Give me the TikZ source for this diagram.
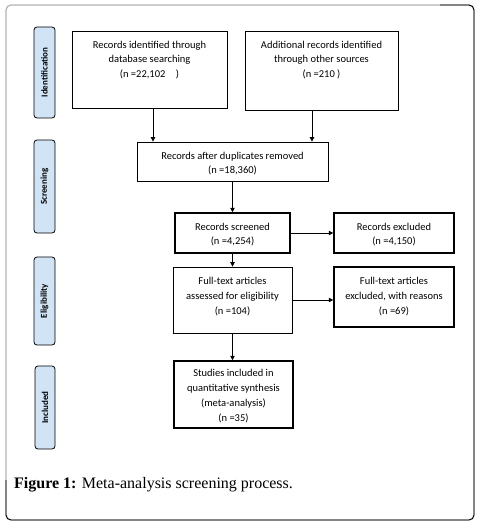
\documentclass[tikz,border=0pt]{standalone}
\usepackage{fontspec}
\setmainfont{Carlito}
\newfontfamily\capfont{Liberation Serif}
\usetikzlibrary{arrows.meta,positioning}
\definecolor{sidefill}{HTML}{D0E4F5}
\tikzset{
  x=1pt,y=-1pt,
  box/.style={draw=black,line width=0.8pt,inner sep=0pt},
  thickbox/.style={box,line width=1.5pt},
  txt/.style={align=center,font=\fontsize{10.5}{14.8}\selectfont,inner sep=0pt},
  side/.style={draw=black,line width=0.8pt,fill=sidefill,rounded corners=3pt,rotate=90,inner sep=0pt,font=\bfseries\fontsize{9}{10}\selectfont},
  arr/.style={-{Triangle[length=4.5pt,width=4.5pt]},line width=0.8pt},
}
\begin{document}
\begin{tikzpicture}
\useasboundingbox (0,0) rectangle (479,527);
% frame
\draw[gray!60,line width=1.2pt,rounded corners=5pt] (6,5) rectangle (474,520);
\draw[black,line width=0.9pt,rounded corners=5pt] (6,480) -- (6,520) -- (474,520) -- (474,5) -- (440,5);
% side labels
\node[side,minimum width=91,minimum height=21] (s1) at (44.5,72.5) {Identification};
\node[side,minimum width=93,minimum height=21] (s2) at (44.5,186.5) {Screening};
\node[side,minimum width=88,minimum height=21] (s3) at (44.5,301) {Eligibility};
\node[side,minimum width=83,minimum height=20] (s4) at (45,407.5) {Included};
% boxes
\node[box,minimum width=155,minimum height=77] (b1) at (149.5,69.5) {};
\node[txt] (t1) at (149.5,60) {Records identified through\\database searching\\(n =22,102\quad)};
\node[box,minimum width=153,minimum height=79] (b2) at (321.5,70.5) {};
\node[txt] (t2) at (321.5,60) {Additional records identified\\through other sources\\(n =210 )};
\node[box,minimum width=191,minimum height=39] (b3) at (232.5,161.5) {};
\node[txt] (t3) at (232.5,163.5) {Records after duplicates removed\\(n =18,360)};
\node[thickbox,minimum width=115,minimum height=40] (b4) at (232.5,233) {};
\node[txt] (t4) at (232.5,234.5) {Records screened\\(n =4,254)};
\node[thickbox,minimum width=120,minimum height=40] (b5) at (394,233) {};
\node[txt] (t5) at (394,234.5) {Records excluded\\(n =4,150)};
\node[box,minimum width=119,minimum height=66] (b6) at (232.5,300) {};
\node[txt] (t6) at (232.5,296.5) {Full-text articles\\assessed for eligibility\\(n =104)};
\node[thickbox,minimum width=120,minimum height=60] (b7) at (394,297) {};
\node[txt] (t7) at (394,296.5) {Full-text articles\\excluded, with reasons\\(n =69)};
\node[thickbox,minimum width=119,minimum height=67] (b8) at (233.5,394.5) {};
\node[txt] (t8) at (233.5,396) {Studies included in\\quantitative synthesis\\(meta-analysis)\\(n =35)};
% arrows
\draw[arr] ([xshift=3.5pt]b1.south) -- ([xshift=3.5pt]b1.south |- b3.north);
\draw[arr] ([xshift=-9.5pt]b2.south) -- ([xshift=-9.5pt]b2.south |- b3.north);
\draw[arr] (b3.south) -- (b4.north);
\draw[arr] (b4.east) -- (b5.west);
\draw[arr] (b4.south) -- (b6.north);
\draw[arr] (b6.east) -- (b6.east -| b7.west);
\draw[arr] (b6.south) -- (b6.south |- b8.north);
% caption
\node[anchor=base west,inner sep=0pt,font=\capfont\fontsize{16}{18}\selectfont] (cap) at (14,488) {\textbf{Figure 1:} Meta-analysis screening process.};
\end{tikzpicture}
\end{document}
